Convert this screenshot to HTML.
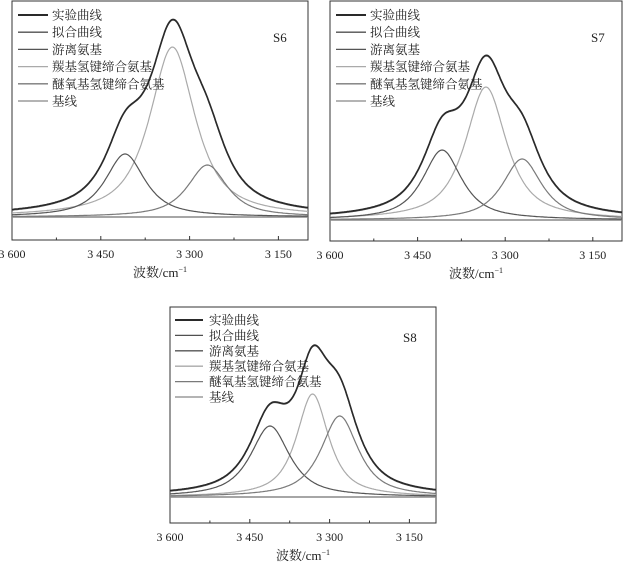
<!DOCTYPE html>
<html><head><meta charset="utf-8"><style>
body{margin:0;background:#fff;width:624px;height:565px;overflow:hidden}
svg text{font-family:"Liberation Serif","Noto Serif CJK SC","Noto Sans CJK SC",serif;fill:#222}
</style></head><body>
<svg id="c" width="624" height="565"></svg>
<script>
// data: component peaks [center cm-1, height (a.u.), HWHM]
const samples = ["S6","S7","S8"];
const freeNH = [[3409,63,40],[3408,70,40],[3412,71,44]];
const carbonylNH = [[3329,170,46],[3333,133,42],[3332,103,36]];
const etherNH = [[3270,52,40],[3271,61,40],[3281,81,42]];
const xTicks = [3600,3450,3300,3150];
const xTickLabels = ["3 600","3 450","3 300","3 150"];
const legendLabels = ["实验曲线","拟合曲线","游离氨基","羰基氢键缔合氨基","醚氧基氢键缔合氨基","基线"];
const legendColors = ["#2a2a2a","#505050","#555","#aaa","#7a7a7a","#888"];

const NS="http://www.w3.org/2000/svg";
const svg=document.getElementById('c');
function mk(t,a,p){const e=document.createElementNS(NS,t);for(const k in a)e.setAttribute(k,a[k]);(p||svg).appendChild(e);return e;}
const panels=[
 {x0:12,x1:308,y0:1,y1:240,base:217,leg:[18,48,52,15,17.2],lab:[273,42]},
 {x0:330,x1:622,y0:1,y1:241,base:220,leg:[336,366,370,15,17.2],lab:[591,42]},
 {x0:170,x1:436,y0:307,y1:523,base:497,leg:[175,203,209,320,15.4],lab:[403,342]}
];
function pk(x,c,h,w){const d=(x-c)/w;return h*(0.85/(1+d*d)+0.15*Math.exp(-Math.log(2)*d*d));}
panels.forEach((P,i)=>{
 const g=mk('g',{});
 
 
 const X=v=>P.x0+(3600-v)/(3600-3100)*(P.x1-P.x0);
 const Y=v=>P.base-v;
 const fr=mk('rect',{x:P.x0,y:P.y0,width:P.x1-P.x0,height:P.y1-P.y0,fill:'none',stroke:'#333','stroke-width':1},g);
 
 xTicks.forEach((t,k)=>{
  mk('line',{x1:X(t),x2:X(t),y1:P.y1,y2:P.y1-4,stroke:'#333'},g);
  if(t-75>3100) mk('line',{x1:X(t-75),x2:X(t-75),y1:P.y1,y2:P.y1-2.5,stroke:'#333'},g);
  const tx=mk('text',{x:X(t),y:P.y1+18,'text-anchor':'middle','font-size':12},g);tx.textContent=xTickLabels[k];
  
 });
 const at=mk('text',{x:(P.x0+P.x1)/2,y:P.y1+37,'text-anchor':'middle','font-size':13},g);
 at.innerHTML='波数/cm<tspan dy="-5" font-size="8">−1</tspan>';
 
 const sl=mk('text',{x:P.lab[0],y:P.lab[1],'font-size':13},g);sl.textContent=samples[i];
 
 const comps=[freeNH[i],carbonylNH[i],etherNH[i]];
 const paths={fit:'',exp:'',c0:'',c1:'',c2:''};
 for(let v=3600;v>=3100;v-=2){
  let s=0;comps.forEach((c,k)=>{const y=pk(v,c[0],c[1],c[2]);s+=y;paths['c'+k]+=(v==3600?'M':'L')+X(v).toFixed(1)+','+Y(y).toFixed(1);});
  paths.fit+=(v==3600?'M':'L')+X(v).toFixed(1)+','+Y(s).toFixed(1);
  paths.exp+=(v==3600?'M':'L')+X(v).toFixed(1)+','+(Y(s)-0.6).toFixed(1);
 }
 const bl=mk('line',{x1:P.x0,x2:P.x1,y1:P.base,y2:P.base,stroke:'#888','stroke-width':1.5},g);
 
 [['c1','#aaa','carbonyl-nh-peak'],['c0','#555','free-nh-peak'],['c2','#7a7a7a','ether-nh-peak'],['fit','#505050','fit-curve'],['exp','#2a2a2a','experimental-curve']].forEach(([k,col,nm])=>{
  const p=mk('path',{d:paths[k],fill:'none',stroke:col,'stroke-width':k=='exp'?1.6:1.2},g);
  
 });
 legendLabels.forEach((l,k)=>{
  const y=P.leg[3]+k*P.leg[4];
  const ln=mk('line',{x1:P.leg[0],x2:P.leg[1],y1:y,y2:y,stroke:legendColors[k],'stroke-width':k==0?2:1.3},g);
  
  const t=mk('text',{x:P.leg[2],y:y+4.5,'font-size':12.5},g);t.textContent=l;
  
 });
});
</script>
</body></html>
